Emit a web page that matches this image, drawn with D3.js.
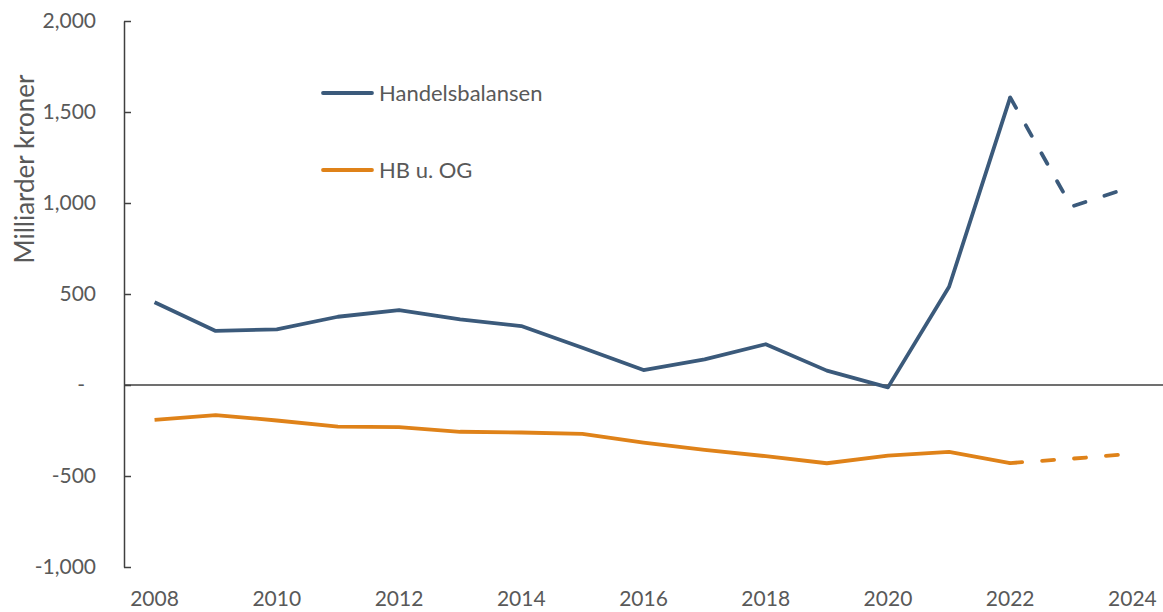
<!DOCTYPE html>
<html>
<head>
<meta charset="utf-8">
<script src="https://cdn.jsdelivr.net/npm/d3@7"></script>
<style>
  body { margin: 0; background: #fff; }
  svg text { font-family: Lato, "Open Sans", sans-serif; fill: #595959; }
</style>
</head>
<body>
<svg id="chart" width="1163" height="612"></svg>
<script>

//----------------Data-------------------------------------

let years = [2008, 2009, 2010, 2011, 2012, 2013, 2014, 2015, 2016, 2017, 2018, 2019, 2020, 2021, 2022, 2023, 2024];
let handelsbalansen = [455, 297, 306, 375, 412, 360, 324, 205, 82, 141, 224, 79, -13, 540, 1580, 980, 1090];
let hbUtenOG = [-192, -165, -195, -229, -232, -257, -261, -269, -316, -357, -391, -430, -388, -368, -429, -405, -378];
let yTicks = [-1000, -500, 0, 500, 1000, 1500, 2000];
let xTickYears = [2008, 2010, 2012, 2014, 2016, 2018, 2020, 2022, 2024];
let forecastFrom = 2022;

let seriesNames = ["Handelsbalansen", "HB u. OG"];
let colors = ["#3b5a7b", "#df8219"];

//----------------Chart-------------------------------------

let svg = d3.select("#chart");

let plotLeft = 124, plotRight = 1163, plotTop = 21, plotBottom = 567;

let x = d3.scalePoint()
        .domain(years)
        .range([plotLeft, plotRight])
        .padding(0.5);

let y = d3.scaleLinear()
        .domain([-1000, 2000])
        .range([plotBottom, plotTop]);

let locale = d3.formatLocale({decimal: ".", thousands: ",", grouping: [3], currency: ["", ""], minus: "-"});
let fmt = locale.format(",");

// y axis: ticks point inward, accounting style zero
let yAxis = svg.append("g")
        .attr("transform", "translate(" + plotLeft + ",0)")
        .call(d3.axisRight(y).tickValues(yTicks).tickSize(7).tickSizeOuter(0).tickFormat(""));

yAxis.select(".domain").attr("stroke", "#404040").attr("stroke-width", 1.5);
yAxis.selectAll(".tick line").attr("stroke", "#404040").attr("stroke-width", 1.5);

svg.append("g").selectAll("text")
        .data(yTicks)
        .enter().append("text")
        .attr("x", d => d === 0 ? 85 : 96)
        .attr("y", d => y(d))
        .attr("dy", "0.35em")
        .attr("text-anchor", "end")
        .style("font-size", "21px")
        .text(d => d === 0 ? "-" : fmt(d));

// zero line
svg.append("line")
        .attr("x1", plotLeft)
        .attr("x2", plotRight)
        .attr("y1", y(0))
        .attr("y2", y(0))
        .attr("stroke", "#404040")
        .attr("stroke-width", 1.5);

// x labels at bottom
svg.append("g").selectAll("text")
        .data(xTickYears)
        .enter().append("text")
        .attr("x", d => x(d))
        .attr("y", 606)
        .attr("text-anchor", "middle")
        .style("font-size", "21px")
        .text(d => d);

// y title
svg.append("text")
        .attr("transform", "translate(34,169) rotate(-90)")
        .attr("text-anchor", "middle")
        .style("font-size", "26px")
        .text("Milliarder kroner");

//----------------Lines-------------------------------------

let line = d3.line()
        .x(d => x(d.year))
        .y(d => y(d.value));

[handelsbalansen, hbUtenOG].forEach(function(values, i) {
  let pts = years.map((yr, j) => ({year: yr, value: values[j]}));
  let solid = pts.filter(d => d.year <= forecastFrom);
  let dashed = pts.filter(d => d.year >= forecastFrom);

  svg.append("path")
     .attr("d", line(solid))
     .attr("fill", "none")
     .attr("stroke", colors[i])
     .attr("stroke-width", 3.8)
     .attr("stroke-linejoin", "round");

  svg.append("path")
     .attr("d", line(dashed))
     .attr("fill", "none")
     .attr("stroke", colors[i])
     .attr("stroke-width", 3.8)
     .attr("stroke-linecap", "round")
     .attr("stroke-linejoin", "round")
     .attr("stroke-dasharray", "12,20");
});

//----------------Legend-------------------------------------

let legend = svg.append("g")
        .selectAll("g")
        .data(seriesNames)
        .enter().append("g")
        .attr("transform", (d, i) => "translate(0," + (93 + i * 77) + ")");

legend.append("line")
      .attr("x1", 323)
      .attr("x2", 372)
      .attr("stroke", (d, i) => colors[i])
      .attr("stroke-width", 3.8)
      .attr("stroke-linecap", "round");

legend.append("text")
      .attr("x", 379)
      .attr("dy", "0.35em")
      .style("font-size", "22px")
      .text(d => d);

</script>
</body>
</html>
